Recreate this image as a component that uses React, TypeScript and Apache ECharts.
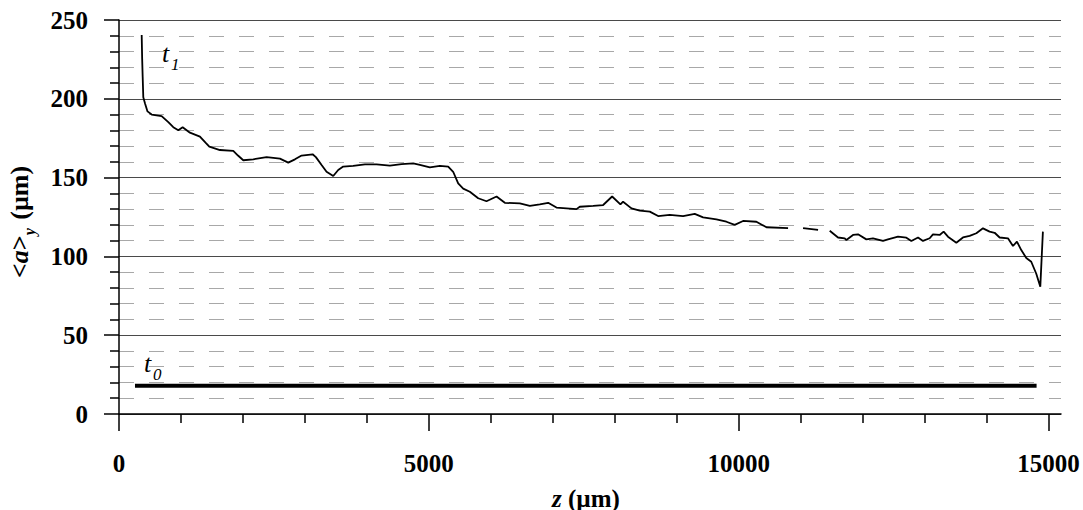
import React, { useEffect, useRef } from "react";
import * as echarts from "echarts";

// ---- data ----
const xMajorTicks = [0, 5000, 10000, 15000];
const xMinorTicks = [1000, 2000, 3000, 4000, 6000, 7000, 8000, 9000, 11000, 12000, 13000, 14000];

const t0Z = [258, 14806];
const t0A = [18, 18];

const t1Z = [
  366, 374, 382, 392, 420, 460, 527, 688, 800, 876, 957, 1027, 1145, 1306, 1400, 1457, 1629, 1844,
  1920, 2005, 2166, 2382, 2597, 2731, 2839, 2946, 3124, 3177, 3269, 3349, 3457, 3537, 3618, 3779,
  3968, 4156, 4371, 4560, 4747, 4855, 5016, 5177, 5312, 5392, 5473, 5554, 5661, 5796, 5930, 6092,
  6226, 6468, 6629, 6790, 6925, 7059, 7382, 7435, 7651, 7812, 7957, 8091, 8134, 8269, 8403, 8565,
  8699, 8887, 9102, 9290, 9425, 9640, 9801, 9935, 10070, 10285, 10447, 10796, 10900, 11038, 11280,
  11380, 11468, 11602, 11710, 11737, 11844, 11925, 12059, 12166, 12328, 12408, 12570, 12705, 12785,
  12893, 12973, 13081, 13134, 13242, 13306, 13376, 13511, 13618, 13726, 13834, 13941, 14048, 14129,
  14210, 14344, 14425, 14489, 14559, 14640, 14720, 14801, 14866, 14908,
];
const t1A: (number | null)[] = [
  240.5, 225, 214, 201, 197, 192, 190, 189, 185, 182, 180, 182, 178.5, 176, 172, 169.6, 167.5, 167,
  164, 161, 161.6, 163, 162, 159.5, 161.6, 164, 164.8, 163, 158, 153.7, 151, 154.8, 157, 157.5,
  158.4, 158.4, 157.6, 158.6, 159, 158, 156.5, 157.4, 156.9, 153.7, 146.3, 143, 141, 136.9, 135, 138,
  134, 133.6, 132, 133, 134, 131, 130, 131.5, 132, 132.6, 138, 133, 134.7, 130.5, 129, 128.4,
  125.6, 126.3, 125.6, 127, 124.8, 123.5, 122, 120, 122.5, 122, 118.5, 118, null, 118, 116.8,
  null, 116.3, 112, 111.5, 110.4, 113.6, 114, 110.8, 111.5, 109.8, 110.8, 112.5, 111.9, 109.8,
  112, 109.8, 111.5, 114, 113.6, 115.7, 112.5, 108.7, 112, 113, 114.7, 117.8, 115.7, 115,
  112, 111.5, 106.6, 109.4, 104, 99, 96.6, 89, 80.8, 115.7,
];

const SERIF = "Liberation Serif";

function measure(text: string, font: string): number {
  const c = document.createElement("canvas").getContext("2d");
  if (!c) return text.length * 10;
  c.font = font;
  return c.measureText(text).width;
}

export default function App() {
  const ref = useRef<HTMLDivElement>(null);
  useEffect(() => {
    if (!ref.current) return;
    const chart = echarts.init(ref.current, undefined, { renderer: "svg" });

    // y-axis title pieces (rotated)
    const fMain = `bold 26px "${SERIF}"`;
    const fItal = `italic bold 26px "${SERIF}"`;
    const fSub = `italic bold 16px "${SERIF}"`;
    const pieces = [
      { t: "<", font: fMain, size: 26, italic: false, sub: false },
      { t: "a", font: fItal, size: 26, italic: true, sub: false },
      { t: ">", font: fMain, size: 26, italic: false, sub: false },
      { t: "y", font: fSub, size: 16, italic: true, sub: true },
      { t: " (µm)", font: fMain, size: 26, italic: false, sub: false },
    ];
    let cx = 0;
    const yTitleChildren: any[] = [];
    for (const p of pieces) {
      yTitleChildren.push({
        type: "text",
        x: cx,
        y: p.sub ? 7 - 0.34 * p.size : -0.34 * p.size,
        style: {
          text: p.t,
          fontFamily: SERIF,
          fontSize: p.size,
          fontWeight: "bold",
          fontStyle: p.italic ? "italic" : "normal",
          fill: "#000",
          align: "left",
          verticalAlign: "middle",
        },
      });
      cx += measure(p.t, p.font) + (p.sub ? 2 : 0);
    }

    const label = (left: number, baseline: number, main: string, sub: string) => [
      {
        type: "text",
        x: left,
        y: baseline - 0.34 * 26,
        style: { text: main, fontFamily: SERIF, fontSize: 26, fontStyle: "italic", fill: "#000", align: "left", verticalAlign: "middle" },
      },
      {
        type: "text",
        x: left + 9,
        y: baseline + 8 - 0.34 * 17,
        style: { text: sub, fontFamily: SERIF, fontSize: 17, fontStyle: "italic", fill: "#000", align: "left", verticalAlign: "middle" },
      },
    ];

    const axisFont = { fontFamily: SERIF, fontSize: 25, fontWeight: "bold" as const, color: "#000" };
    const plain = (v: number) => String(v);

    chart.setOption({
      animation: false,
      backgroundColor: "#fff",
      grid: { left: 119, right: 22, top: 20, bottom: 96, containLabel: false },
      xAxis: [
        {
          type: "value",
          min: 0,
          max: 15200,
          axisLine: { show: true, lineStyle: { color: "#000", width: 1.5 } },
          axisTick: { show: true, length: 17, customValues: xMajorTicks, lineStyle: { color: "#000", width: 1.5 } },
          axisLabel: { show: true, customValues: xMajorTicks, margin: 37, formatter: plain, ...axisFont },
          splitLine: { show: false },
        },
        {
          type: "value",
          min: 0,
          max: 15200,
          position: "bottom",
          axisLine: { show: false },
          axisTick: { show: true, length: 9, customValues: xMinorTicks, lineStyle: { color: "#000", width: 1.5 } },
          axisLabel: { show: false, customValues: xMinorTicks },
          splitLine: { show: false },
        },
      ],
      yAxis: {
        type: "value",
        min: 0,
        max: 250,
        interval: 50,
        axisLine: { show: true, lineStyle: { color: "#000", width: 1.5 } },
        axisTick: { show: true, length: 15, lineStyle: { color: "#000", width: 1.5 } },
        minorTick: { show: true, splitNumber: 5, length: 9, lineStyle: { color: "#000", width: 1.5 } },
        axisLabel: { margin: 31, formatter: plain, ...axisFont },
        splitLine: { show: true, lineStyle: { color: "#4a4a4a", width: 1.2 } },
        minorSplitLine: { show: true, lineStyle: { color: "#a8a8a8", width: 1.2, type: [15, 15] } },
      },
      series: [
        {
          name: "t0",
          type: "line",
          xAxisIndex: 0,
          symbol: "none",
          data: t0Z.map((z, i) => [z, t0A[i]]),
          lineStyle: { color: "#000", width: 4 },
        },
        {
          name: "t1",
          type: "line",
          xAxisIndex: 0,
          symbol: "none",
          connectNulls: false,
          data: t1Z.map((z, i) => [z, t1A[i] === null ? "-" : t1A[i]]),
          lineStyle: { color: "#000", width: 1.8 },
        },
      ],
      graphic: [
        { type: "group", x: 28, y: 278, rotation: Math.PI / 2, children: yTitleChildren },
        {
          type: "text",
          x: 586,
          y: 498,
          style: {
            text: "{i|z}{b| (µm)}",
            align: "center",
            verticalAlign: "middle",
            rich: {
              i: { fontFamily: SERIF, fontSize: 25, fontWeight: "bold", fontStyle: "italic", fill: "#000" },
              b: { fontFamily: SERIF, fontSize: 25, fontWeight: "bold", fill: "#000" },
            },
          },
        },
        ...label(162, 62, "t", "1"),
        ...label(144, 372, "t", "0"),
      ],
    });
    return () => chart.dispose();
  }, []);
  return <div ref={ref} style={{ position: "absolute", left: 0, top: 0, width: 1083, height: 510 }} />;
}
